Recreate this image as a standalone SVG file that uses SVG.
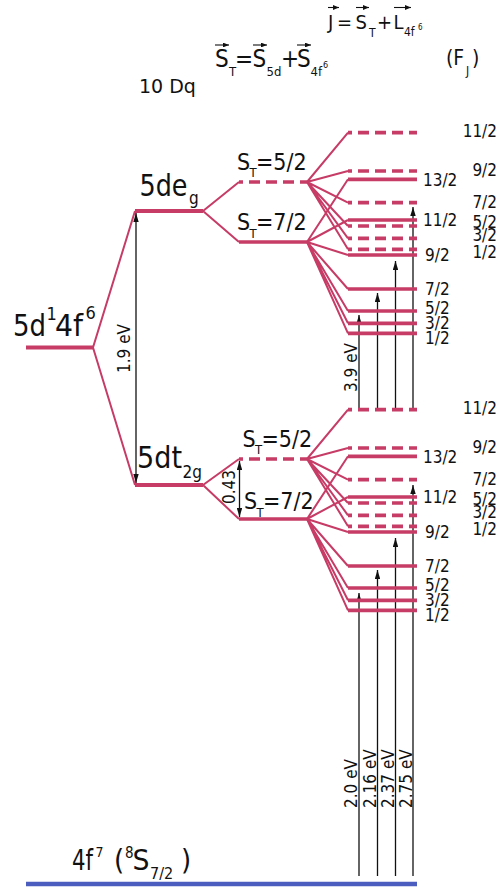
<svg xmlns="http://www.w3.org/2000/svg" width="500" height="887" viewBox="0 0 500 887">
<defs>
<style>
text { font-family: 'DejaVu Sans Condensed','DejaVu Sans',sans-serif; font-stretch: condensed; fill:#111; }
.big { font-size:31px; }
.st { font-size:23px; }
.f24 { font-size:24px; }
.f20 { font-size:20px; }
.sub { font-size:13px; }
.sup { font-size:9px; }
.lab { font-size:17px; }
.rc { text-anchor:end; }
.lv { stroke:#c63c66; stroke-width:3.7; fill:none; }
.main { stroke:#c63c66; stroke-width:4; fill:none; }
.dash { stroke-dasharray:11 6; stroke-dashoffset:7; }
.cn { stroke:#c63c66; stroke-width:2; fill:none; }
.ar { stroke:#111; stroke-width:1.3; fill:none; marker-end:url(#ah); }
.dar { stroke:#111; stroke-width:1.3; fill:none; marker-start:url(#ah); marker-end:url(#ah); }
.va { stroke:#111; stroke-width:1.1; fill:none; marker-end:url(#ahs); }
</style>
<marker id="ah" viewBox="0 0 10 6" refX="10" refY="3" markerWidth="9" markerHeight="5.4" markerUnits="userSpaceOnUse" orient="auto-start-reverse">
<path d="M0,0 L10,3 L0,6 z" fill="#111"/>
</marker>
<marker id="ahs" viewBox="0 0 10 8" refX="10" refY="4" markerWidth="6" markerHeight="4.8" markerUnits="userSpaceOnUse" orient="auto">
<path d="M0,0 L10,4 L0,8 z" fill="#111"/>
</marker>
</defs>
<rect width="500" height="887" fill="#fff"/>

<!-- header formulas -->
<g id="formula-J">
<text class="f20" x="328" y="29.3">J</text>
<text class="f20" x="337" y="29.3">=</text>
<text class="f20" x="355.5" y="29.3">S</text>
<text class="sub" x="369" y="37" style="font-size:12px">T</text>
<text class="f20" x="377" y="29.3">+</text>
<text class="f20" x="393.5" y="29.3">L</text>
<text class="sub" x="404" y="36" style="font-size:12px">4f</text>
<text class="sup" x="418" y="30" style="font-size:8px">6</text>
<path class="va" d="M328,7.5 H339"/>
<path class="va" d="M356,7.5 H369"/>
<path class="va" d="M394,7.5 H411"/>
</g>
<g id="formula-ST">
<text class="f24" x="215" y="66.5">S</text>
<text class="sub" x="229" y="76">T</text>
<text class="f24" x="235" y="66.5">=</text>
<text class="f24" x="252.5" y="66.5">S</text>
<text class="sub" x="266.5" y="76">5d</text>
<text class="f24" x="281" y="66.5">+</text>
<text class="f24" x="297" y="66.5">S</text>
<text class="sub" x="310.5" y="76">4f</text>
<text class="sup" x="323" y="68">6</text>
<path class="va" d="M215,45 H229"/>
<path class="va" d="M253,45 H267"/>
<path class="va" d="M297,45 H311"/>
</g>
<g id="title-10Dq">
<text x="139" y="92.5" style="font-family:'DejaVu Sans',sans-serif;font-stretch:normal;font-size:19px">10 Dq</text>
</g>
<g id="title-FJ">
<text x="446" y="65" style="font-size:21px">(F</text>
<text x="466" y="75" style="font-size:12px">J</text>
<text x="472" y="65" style="font-size:21px">)</text>
</g>

<!-- connectors -->
<g id="connectors">
<path class="cn" d="M93,347.5 L135,211 M93,347.5 L135,485"/>
<path class="cn" d="M203,211 L239,182 M203,211 L239,242 M203,485 L239,459 M203,485 L239,519"/>
<path class="cn" d="M307,182 L348,132.7 M307,182 L348,171 M307,182 L348,202.7 M307,182 L348,226 M307,182 L348,238.3 M307,182 L348,249.3"/>
<path class="cn" d="M307,242 L348,179.3 M307,242 L348,220 M307,242 L348,255 M307,242 L348,289 M307,242 L348,311 M307,242 L348,323.3 M307,242 L348,333.3"/>
<path class="cn" d="M307,459 L348,409.7 M307,459 L348,448 M307,459 L348,479.7 M307,459 L348,503 M307,459 L348,515.3 M307,459 L348,526.3"/>
<path class="cn" d="M307,519 L348,456.3 M307,519 L348,497 M307,519 L348,532 M307,519 L348,566 M307,519 L348,588 M307,519 L348,600.3 M307,519 L348,610.3"/>
<!-- energy arrows -->
<path class="dar" d="M136,213 V483"/>
<path class="dar" d="M239.5,461 V517"/>
<path class="ar" d="M359,408 V315"/>
<path class="ar" d="M377.5,408 V293"/>
<path class="ar" d="M395.5,408 V261"/>
<path class="ar" d="M413,408 V207"/>
<path class="ar" d="M359,876 V593"/>
<path class="ar" d="M377.5,876 V570"/>
<path class="ar" d="M395.5,876 V538"/>
<path class="ar" d="M413,876 V485"/>
<text class="lab" transform="translate(130,373) rotate(-90)">1.9 eV</text>
<text class="lab" transform="translate(235,504) rotate(-90)">0.43</text>
<text class="lab" transform="translate(357,392) rotate(-90)">3.9 eV</text>
<text class="lab" transform="translate(357,808) rotate(-90)">2.0 eV</text>
<text class="lab" transform="translate(375.5,808) rotate(-90)">2.16 eV</text>
<text class="lab" transform="translate(393.5,808) rotate(-90)">2.37 eV</text>
<text class="lab" transform="translate(411.5,808) rotate(-90)">2.75 eV</text>
</g>

<!-- nodes -->
<g id="node-5d4f6">
<line class="main" x1="26" y1="347.5" x2="93" y2="347.5"/>
<text class="big" x="13" y="335.5" textLength="33" lengthAdjust="spacingAndGlyphs">5d</text>
<text x="46.5" y="320" style="font-size:18px">1</text>
<text class="big" x="55" y="335.5" textLength="28" lengthAdjust="spacingAndGlyphs">4f</text>
<text x="85.5" y="319" style="font-size:18px">6</text>
</g>
<g id="node-5deg">
<line class="main" x1="135" y1="211" x2="203" y2="211"/>
<text class="big" x="139.5" y="195.5" textLength="48" lengthAdjust="spacingAndGlyphs">5de</text>
<text x="189" y="203.5" style="font-size:17px">g</text>
</g>
<g id="node-5dt2g">
<line class="main" x1="135" y1="485" x2="203" y2="485"/>
<text class="big" x="137" y="468" textLength="45" lengthAdjust="spacingAndGlyphs">5dt</text>
<text x="182.5" y="478" style="font-size:17px">2g</text>
</g>
<g id="node-eg-ST52">
<line class="lv dash" x1="239" y1="182" x2="307" y2="182"/>
<text class="st" x="237" y="169.5">S</text>
<text class="sub" x="249.5" y="177">T</text>
<text class="st" x="256" y="169.5">=5/2</text>
</g>
<g id="node-eg-ST72">
<line class="lv" x1="239" y1="242" x2="307" y2="242"/>
<text class="st" x="237" y="230">S</text>
<text class="sub" x="249.5" y="237.5">T</text>
<text class="st" x="256" y="230">=7/2</text>
</g>
<g id="node-t2g-ST52">
<line class="lv dash" x1="239" y1="459" x2="307" y2="459"/>
<text class="st" x="242.5" y="446.5">S</text>
<text class="sub" x="255" y="454">T</text>
<text class="st" x="261.5" y="446.5">=5/2</text>
</g>
<g id="node-t2g-ST72">
<line class="lv" x1="239" y1="519" x2="307" y2="519"/>
<text class="st" x="244" y="509">S</text>
<text class="sub" x="256.5" y="516.5">T</text>
<text class="st" x="263" y="509">=7/2</text>
</g>

<g id="levels-eg-ST52">
<path class="lv dash" d="M348,132.7 H417 M348,171 H417 M348,202.7 H417 M348,226 H417 M348,238.3 H417 M348,249.3 H417"/>
<text class="lab rc" x="497" y="137">11/2</text>
<text class="lab rc" x="497" y="175.5">9/2</text>
<text class="lab rc" x="497" y="208">7/2</text>
<text class="lab rc" x="497" y="227.5">5/2</text>
<text class="lab rc" x="497" y="241">3/2</text>
<text class="lab rc" x="497" y="258">1/2</text>
</g>
<g id="levels-eg-ST72">
<path class="lv" d="M348,179.3 H417 M348,220 H417 M348,255 H417 M348,289 H417 M348,311 H417 M348,323.3 H417 M348,333.3 H417"/>
<text class="lab" x="423" y="186">13/2</text>
<text class="lab" x="423" y="225.5">11/2</text>
<text class="lab" x="425" y="260.5">9/2</text>
<text class="lab" x="425" y="294.5">7/2</text>
<text class="lab" x="425" y="313.5">5/2</text>
<text class="lab" x="425" y="328.5">3/2</text>
<text class="lab" x="425" y="343.5">1/2</text>
</g>
<g id="levels-t2g-ST52">
<path class="lv dash" d="M348,409.7 H417 M348,448 H417 M348,479.7 H417 M348,503 H417 M348,515.3 H417 M348,526.3 H417"/>
<text class="lab rc" x="497" y="414">11/2</text>
<text class="lab rc" x="497" y="452.5">9/2</text>
<text class="lab rc" x="497" y="485">7/2</text>
<text class="lab rc" x="497" y="504.5">5/2</text>
<text class="lab rc" x="497" y="518">3/2</text>
<text class="lab rc" x="497" y="535">1/2</text>
</g>
<g id="levels-t2g-ST72">
<path class="lv" d="M348,456.3 H417 M348,497 H417 M348,532 H417 M348,566 H417 M348,588 H417 M348,600.3 H417 M348,610.3 H417"/>
<text class="lab" x="423" y="463">13/2</text>
<text class="lab" x="423" y="502.5">11/2</text>
<text class="lab" x="425" y="537.5">9/2</text>
<text class="lab" x="425" y="571.5">7/2</text>
<text class="lab" x="425" y="590.5">5/2</text>
<text class="lab" x="425" y="605.5">3/2</text>
<text class="lab" x="425" y="620.5">1/2</text>
</g>

<g id="node-ground">
<line x1="26" y1="884" x2="417" y2="884" stroke="#4b5dbf" stroke-width="4.5"/>
<text class="big" x="72" y="870" style="font-size:29px" textLength="21" lengthAdjust="spacingAndGlyphs">4f</text>
<text x="95.5" y="857" style="font-size:14px">7</text>
<text class="big" x="114" y="870" style="font-size:29px">(</text>
<text x="125" y="857.5" style="font-size:15px">8</text>
<text class="big" x="132.5" y="870" style="font-size:29px" textLength="17" lengthAdjust="spacingAndGlyphs">S</text>
<text x="150" y="878.5" style="font-size:16px">7/2</text>
<text class="big" x="181" y="870" style="font-size:29px">)</text>
</g>
</svg>
